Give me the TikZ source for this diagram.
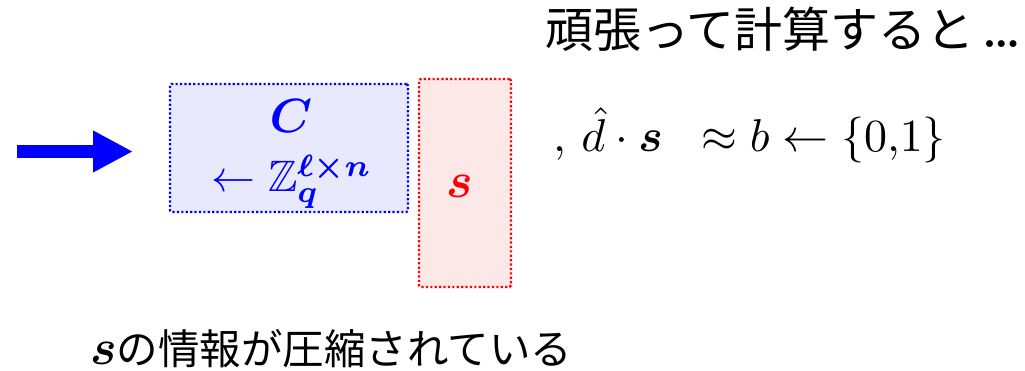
\documentclass[tikz,border=0pt]{standalone}
\usepackage{amsmath,amssymb,bm}
\usepackage{fontspec}
\newfontfamily\jp{Noto Sans CJK JP}
\usetikzlibrary{arrows.meta}
\definecolor{cfill}{RGB}{232,233,252}
\definecolor{sfill}{RGB}{253,232,232}
\tikzset{
  mathbox/.style={draw, line width=2.2pt, dash pattern=on 2.2pt off 2.2pt, rounded corners=1.5pt},
  jptext/.style={inner sep=0pt, anchor=base west},
}
\begin{document}
\begin{tikzpicture}[x=1pt,y=-1pt]
\useasboundingbox (0,0) rectangle (1025,371);
% big arrow
\coordinate (arrS) at (17,151.5);
\coordinate (arrE) at (133,151.5);
\draw[blue, line width=13pt, -{Triangle[length=40pt,width=39pt]}] (arrS) -- (arrE);
% C box
\node[mathbox, draw=blue, fill=cfill, minimum width=238pt, minimum height=128pt, inner sep=0pt] (cbox) at (289,148) {};
\node[text=blue, inner sep=0pt] (ctext) at (291,116) {\scalebox{4.8}{$\boldsymbol{C}$}};
\node[text=blue, inner sep=0pt, anchor=base] (ztext) at (292,192) {\scalebox{4.4}{$\leftarrow \mathbb{Z}_{\boldsymbol{q}}^{\boldsymbol{\ell\times n}}$}};
% s box
\node[mathbox, draw=red, fill=sfill, minimum width=92pt, minimum height=208pt, inner sep=0pt] (sbox) at (465,183) {};
\node[text=red, inner sep=0pt] (stext) at (460,186) {\scalebox{5}{$\boldsymbol{s}$}};
% top text
\node[jptext] (top) at (545,48) {\jp\fontsize{48}{50}\selectfont 頑張って計算すると\,{\rmfamily\bfseries\ldots}};
% formula
\node[jptext] (formula) at (553,152) {\scalebox{4.6}{$,\,\hat d\cdot\boldsymbol{s}\;\;\approx b\leftarrow\{0{,}1\}$}};
% bottom text
\node[jptext] (bottom) at (90,364) {\scalebox{5}{$\boldsymbol{s}$}\jp\fontsize{41.5}{45}\selectfont の情報が圧縮されている};
\end{tikzpicture}
\end{document}
